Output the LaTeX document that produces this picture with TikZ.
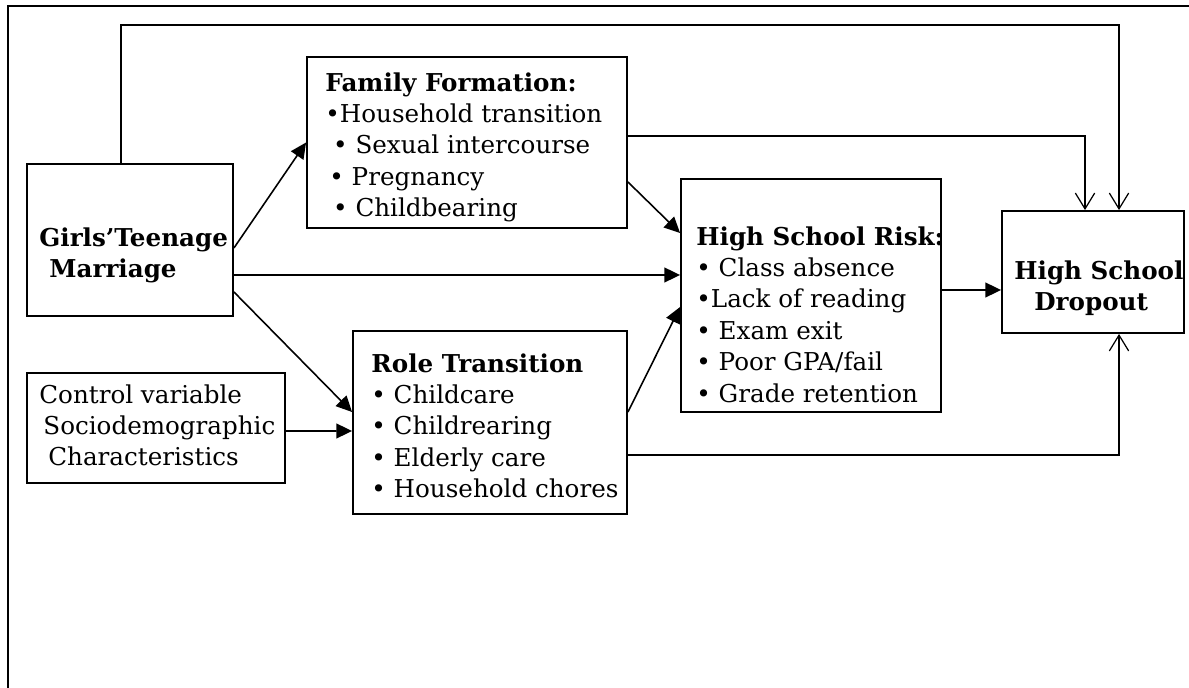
\documentclass[tikz,border=0pt]{standalone}
\usepackage{fontspec}
\setmainfont{DejaVu Serif}
\usetikzlibrary{arrows.meta, positioning, calc}
\tikzset{
    box/.style={
        rectangle,
        draw=black,
        line width=1.1pt,
        inner sep=0pt
    },
    boxtext/.style={
        anchor=north west,
        inner sep=0pt,
        align=left,
        font=\fontsize{14}{17.9}\selectfont
    },
    link/.style={
        draw=black,
        line width=0.9pt,
        -{Triangle[length=9pt,width=8.5pt]}
    },
    feedback/.style={
        draw=black,
        line width=0.7pt,
        -{Straight Barb[length=9pt,width=11pt]}
    }
}

\begin{document}
\begin{tikzpicture}[x=0.02cm, y=-0.02cm]

\useasboundingbox (0,0) rectangle (1189,688);
\clip (0,0) rectangle (1189,688);
% outer frame
\draw[line width=1.4pt] (8,6) rectangle (1210,710);

% Boxes
\node[box, minimum width=4.12cm, minimum height=3.04cm] (girls) at (130,240) {};
\node[box, minimum width=6.4cm, minimum height=3.42cm] (family) at (467,142.5) {};
\node[box, minimum width=5.2cm, minimum height=4.66cm] (risk) at (811,295.5) {};
\node[box, minimum width=3.64cm, minimum height=2.44cm] (dropout) at (1093,272) {};
\node[box, minimum width=5.48cm, minimum height=3.66cm] (role) at (490,422.5) {};
\node[box, minimum width=5.16cm, minimum height=2.2cm] (control) at (156,428) {};

% Texts
\node[boxtext] (girlstxt) at ($(girls.north west)+(13,64)$)
    {\textbf{Girls’Teenage}\\\hspace*{0.2cm}\textbf{Marriage}};
\node[boxtext] (familytxt) at ($(family.north west)+(19,16)$)
    {\textbf{Family Formation:}\\\textbullet Household transition\\
     ~\textbullet~Sexual intercourse\\\hspace*{0.08cm}\textbullet~Pregnancy\\
     ~\textbullet~Childbearing};
\node[boxtext] (risktxt) at ($(risk.north west)+(16,48)$)
    {\textbf{High School Risk:}\\\textbullet~Class absence\\\textbullet Lack of reading\\
     \textbullet~Exam exit\\\textbullet~Poor GPA/fail\\\textbullet~Grade retention};
\node[boxtext] (dropouttxt) at ($(dropout.north west)+(13,50)$)
    {\textbf{High School}\\\hspace*{0.4cm}\textbf{Dropout}};
\node[boxtext] (roletxt) at ($(role.north west)+(19,23)$)
    {\textbf{Role Transition}\\\textbullet~Childcare\\\textbullet~Childrearing\\
     \textbullet~Elderly care\\\textbullet~Household chores};
\node[boxtext] (controltxt) at ($(control.north west)+(13,12)$)
    {Control variable\\\hspace*{0.08cm}Sociodemographic\\\hspace*{0.18cm}Characteristics};

% Direct paths
\draw[link] ($(girls.east)+(0,8)$) -- (family.west);
\draw[link] ($(girls.east)+(0,35)$) -- ($(risk.west)+(0,-20.5)$);
\draw[link] ($(girls.east)+(0,52)$) -- ($(role.west)+(0,-10.5)$);
\draw[link] ($(control.east)+(0,3)$) -- ($(role.west)+(0,8.5)$);
\draw[link] ($(family.east)+(0,39.5)$) -- ($(risk.west)+(0,-62.5)$);
\draw[link] ($(role.east)+(0,-10.5)$) -- ($(risk.west)+(0,11.5)$);
\draw[link] ($(risk.east)+(0,-5.5)$) -- ($(dropout.west)+(0,18)$);

% Paths to dropout
\draw[feedback] ($(girls.north)+(-9,0)$) |- ($(dropout.north)+(26,-185)$) -- ($(dropout.north)+(26,0)$);
\draw[feedback] ($(family.east)+(0,-6.5)$) -| ($(dropout.north)+(-8,0)$);
\draw[feedback] ($(role.east)+(0,32.5)$) -| ($(dropout.south)+(26,0)$);

\end{tikzpicture}
\end{document}
